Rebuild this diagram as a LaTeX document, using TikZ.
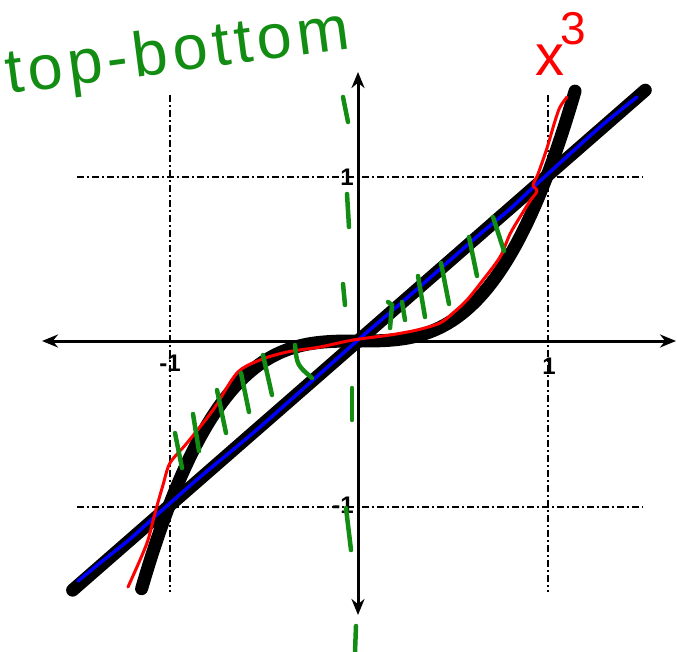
\documentclass[tikz,border=0pt]{standalone}
\usepackage{fontspec}
\setsansfont{Liberation Sans}
\newfontfamily\handfont[LetterSpace=8]{Liberation Sans}
\usetikzlibrary{arrows.meta}
\definecolor{penred}{RGB}{255,0,0}
\definecolor{penblue}{RGB}{0,0,255}
\definecolor{pengreen}{RGB}{18,140,18}
\begin{document}
\begin{tikzpicture}[x=1pt,y=-1pt,
  gridline/.style={line width=1.6pt, dash pattern=on 7pt off 3pt on 2pt off 3pt},
  axisline/.style={line width=3pt, {Stealth[length=16pt,width=13pt]}-{Stealth[length=16pt,width=13pt]}},
  inkcurve/.style={line width=13pt, line cap=round, line join=round},
  bluepen/.style={penblue, line width=3.5pt, line cap=round, line join=round},
  redpen/.style={penred, line width=3pt, line cap=round, line join=round},
  greenpen/.style={pengreen, line width=4.5pt, line cap=round},
  ticklab/.style={font=\sffamily\bfseries\fontsize{24}{24}\selectfont, inner sep=0pt},
  greentext/.style={text=pengreen, font=\handfont\fontsize{63}{63}\selectfont, inner sep=0pt},
  redtext/.style={text=penred, inner sep=0pt}]
\useasboundingbox (0,0) rectangle (677,652);
\fill[white] (0,0) rectangle (677,652);
% grid
\draw[gridline] (170,95) -- (170,592);
\draw[gridline] (548,95) -- (548,592);
\draw[gridline] (77,177) -- (643,177);
\draw[gridline] (77,507) -- (643,507);
% axes
\coordinate (xl) at (42,341);
\coordinate (xr) at (676,341);
\coordinate (yt) at (358,72);
\coordinate (yb) at (358,615);
\draw[axisline] (xl) -- (xr);
\draw[axisline] (yt) -- (yb);
% tick labels
\node[ticklab] (lxm) at (170,363) {-1};
\node[ticklab] (lx) at (549,366) {1};
\node[ticklab, anchor=east] (ly) at (354,177) {1};
\node[ticklab, anchor=east] (lym) at (354,505) {-1};
% printed curves
\begin{scope}[xshift=358pt, yshift=-341pt, x=189pt, y=165pt]
  \draw[inkcurve] plot[domain=-1.51:1.52, samples=2] (\x,\x);
  \draw[inkcurve] plot[domain=-1.145:1.15, samples=120] (\x,{\x*\x*\x});
\end{scope}
% blue pen
\draw[bluepen] plot[smooth, tension=0.4] coordinates {(78,581) (100,563) (130,539) (160,512) (200,477) (260,427) (358,340) (400,304) (440,269) (480,234) (510,209) (540,181) (600,127) (637,97)};
% red pen
\draw[redpen] plot[smooth, tension=0.5] coordinates {(128,587) (140,560) (148,540) (155,513) (163,485) (170,463) (187,443) (213,410) (237,373) (260,360) (287,352) (320,347) (353,340) (390,335) (417,330) (440,323) (453,313) (467,300) (483,280) (500,257) (510,234) (520,217) (530,201) (537,191) (533,185) (538,174) (547,148) (555,121) (560,107) (567,97)};
% green hatches left
\draw[greenpen] (175,433) -- (182,468);
\draw[greenpen] (193,414) -- (199,451);
\draw[greenpen] (217,390) -- (226,433);
\draw[greenpen] (241,373) -- (249,412);
\draw[greenpen] (263,355) -- (272,395);
\draw[greenpen] (295,345) .. controls (297,365) .. (312,378);
% green hatches right
\draw[greenpen] (388,302) -- (392,305) -- (390,328);
\draw[greenpen] (402,302) -- (405,320);
\draw[greenpen] (418,276) -- (425,317);
\draw[greenpen] (441,263) -- (449,304);
\draw[greenpen] (469,237) -- (477,276);
\draw[greenpen] (493,217) -- (504,251);
% green dashed line along the y axis
\draw[greenpen] (343,97) -- (348,122);
\draw[greenpen] (347,194) -- (349,227);
\draw[greenpen] (343,284) -- (345,305);
\draw[greenpen] (352,388) -- (352,420);
\draw[greenpen] (346,508) -- (351,550);
\draw[greenpen] (356,626) -- (355,652);
% handwritten labels
\node[greentext, rotate=7.5, anchor=base west] (tb) at (8,94) {top-bottom};
\node[redtext, font=\handfont\fontsize{58}{58}\selectfont] (xc) at (550,60) {x};
\node[redtext, font=\handfont\fontsize{46}{46}\selectfont] (cube) at (573,29) {3};
\end{tikzpicture}
\end{document}
